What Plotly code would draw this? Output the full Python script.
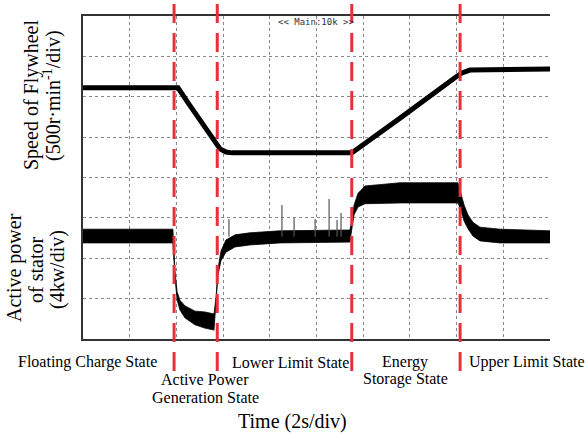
import plotly.graph_objects as go

# ---- data (time in s, values in scope divisions) ----
state_bounds = [3.90, 5.75, 11.51, 16.15]

speed_t = [0.0, 4.07, 4.50, 5.01, 5.44, 5.65, 5.87, 6.12, 6.38, 11.52, 11.69, 13.58, 15.97, 16.23, 16.57, 20.0]
speed_v = [6.22, 6.22, 5.85, 5.42, 5.05, 4.85, 4.71, 4.63, 4.61, 4.61, 4.68, 5.47, 6.49, 6.59, 6.66, 6.69]

power_t = [0.0, 3.85, 3.94, 4.03, 4.15, 4.37, 4.80, 5.22, 5.61, 5.70, 5.78, 5.91, 6.12, 6.51, 7.15, 8.44,
           11.43, 11.52, 11.61, 11.78, 12.08, 13.58, 16.06, 16.19, 16.32, 16.49, 16.70, 17.00, 17.86, 20.0]
power_v = [2.55, 2.55, 1.59, 1.07, 0.84, 0.67, 0.52, 0.47, 0.42, 0.97, 1.66, 2.06, 2.30, 2.43, 2.48, 2.53,
           2.55, 2.85, 3.20, 3.44, 3.57, 3.62, 3.62, 3.39, 3.12, 2.90, 2.72, 2.60, 2.55, 2.53]
power_noise = [0.17, 0.17, 0.07, 0.10, 0.12, 0.15, 0.17, 0.20, 0.20, 0.07, 0.07, 0.12, 0.15, 0.15, 0.15, 0.15,
               0.15, 0.10, 0.12, 0.17, 0.22, 0.25, 0.25, 0.20, 0.20, 0.17, 0.17, 0.17, 0.17, 0.15]

spike_t = [6.25, 8.52, 9.04, 9.94, 10.54, 10.88, 11.05]
spike_top = [2.97, 3.32, 3.00, 2.97, 3.47, 2.95, 3.12]
spike_base = 2.53

state_labels = [
    ("Floating Charge State", 87.5, 362),
    ("Active Power", 205, 379),
    ("Generation State", 205, 398),
    ("Lower Limit State", 290, 362),
    ("Energy", 405, 362),
    ("Storage State", 405, 379),
    ("Upper Limit State", 526.5, 362),
]

# ---- layout geometry (pixels) ----
W, H = 585, 434
L, R, T, B = 83, 550, 16, 339


def px(x):
    return (x - L) / (R - L)


def py(y):
    return (B - y) / (B - T)


fig = go.Figure()

lower = [v - n for v, n in zip(power_v, power_noise)]
upper = [v + n for v, n in zip(power_v, power_noise)]
fig.add_trace(go.Scatter(x=power_t, y=lower, mode="lines", line=dict(color="black", width=0.8),
                         hoverinfo="skip", showlegend=False))
fig.add_trace(go.Scatter(x=power_t, y=upper, mode="lines", line=dict(color="black", width=0.8),
                         fill="tonexty", fillcolor="black", hoverinfo="skip", showlegend=False))

sx, sy = [], []
for t, top in zip(spike_t, spike_top):
    sx += [t, t, None]
    sy += [spike_base, top, None]
fig.add_trace(go.Scatter(x=sx, y=sy, mode="lines", line=dict(color="#555", width=1.2),
                         hoverinfo="skip", showlegend=False))

fig.add_trace(go.Scatter(x=speed_t, y=speed_v, mode="lines", line=dict(color="black", width=5),
                         hoverinfo="skip", showlegend=False))

for b in state_bounds:
    fig.add_shape(type="line", xref="x", yref="paper", x0=b, x1=b, y0=py(4), y1=py(371),
                  line=dict(color="#e8303a", width=3, dash="19px,10px"), layer="above")

ann = []
ser = "Liberation Serif"
for text, x, y in state_labels:
    ann.append(dict(text=text, x=px(x), y=py(y), xref="paper", yref="paper", showarrow=False,
                    xanchor="center", yanchor="middle", font=dict(family=ser, size=16, color="black")))
ann.append(dict(text="Time (2s/div)", x=px(292), y=py(421), xref="paper", yref="paper", showarrow=False,
                xanchor="center", yanchor="middle", font=dict(family=ser, size=20, color="black")))
ann.append(dict(text="&lt;&lt; Main:10k &gt;&gt;", x=px(316), y=py(22), xref="paper", yref="paper",
                showarrow=False, xanchor="center", yanchor="middle",
                font=dict(family="DejaVu Sans Mono", size=9, color="#333")))
for text, x, y in [("Speed of Flywheel", 31, 95), ("(500r·min<sup>-1</sup>/div)", 53, 96),
                   ("Active power", 14, 268), ("of stator", 36, 270), ("(4kw/div)", 57, 270)]:
    ann.append(dict(text=text, x=px(x), y=py(y), xref="paper", yref="paper", showarrow=False,
                    textangle=-90, xanchor="center", yanchor="middle",
                    font=dict(family=ser, size=20, color="black")))

fig.update_layout(
    width=W, height=H,
    margin=dict(l=L, r=W - R, t=T, b=H - B, pad=0),
    paper_bgcolor="white", plot_bgcolor="white",
    annotations=ann,
    xaxis=dict(range=[0, 20], tickvals=[2, 4, 6, 8, 10, 12, 14, 16, 18], showticklabels=False, ticks="",
               showgrid=True, gridcolor="#888", griddash="dot", gridwidth=1,
               showline=True, linecolor="#333", linewidth=1.5, mirror=True, zeroline=False),
    yaxis=dict(range=[0, 8], tickvals=[1, 2, 3, 4, 5, 6, 7], showticklabels=False, ticks="",
               showgrid=True, gridcolor="#888", griddash="dot", gridwidth=1,
               showline=True, linecolor="#333", linewidth=1.5, mirror=False, zeroline=False),
)

fig.write_html("out.html", config={"displayModeBar": False})
with open("out.html", "r", encoding="utf-8") as f:
    html = f.read()
html = html.replace("<head>", "<head><style>html,body{margin:0;padding:0;overflow:hidden;}</style>", 1)
with open("out.html", "w", encoding="utf-8") as f:
    f.write(html)
